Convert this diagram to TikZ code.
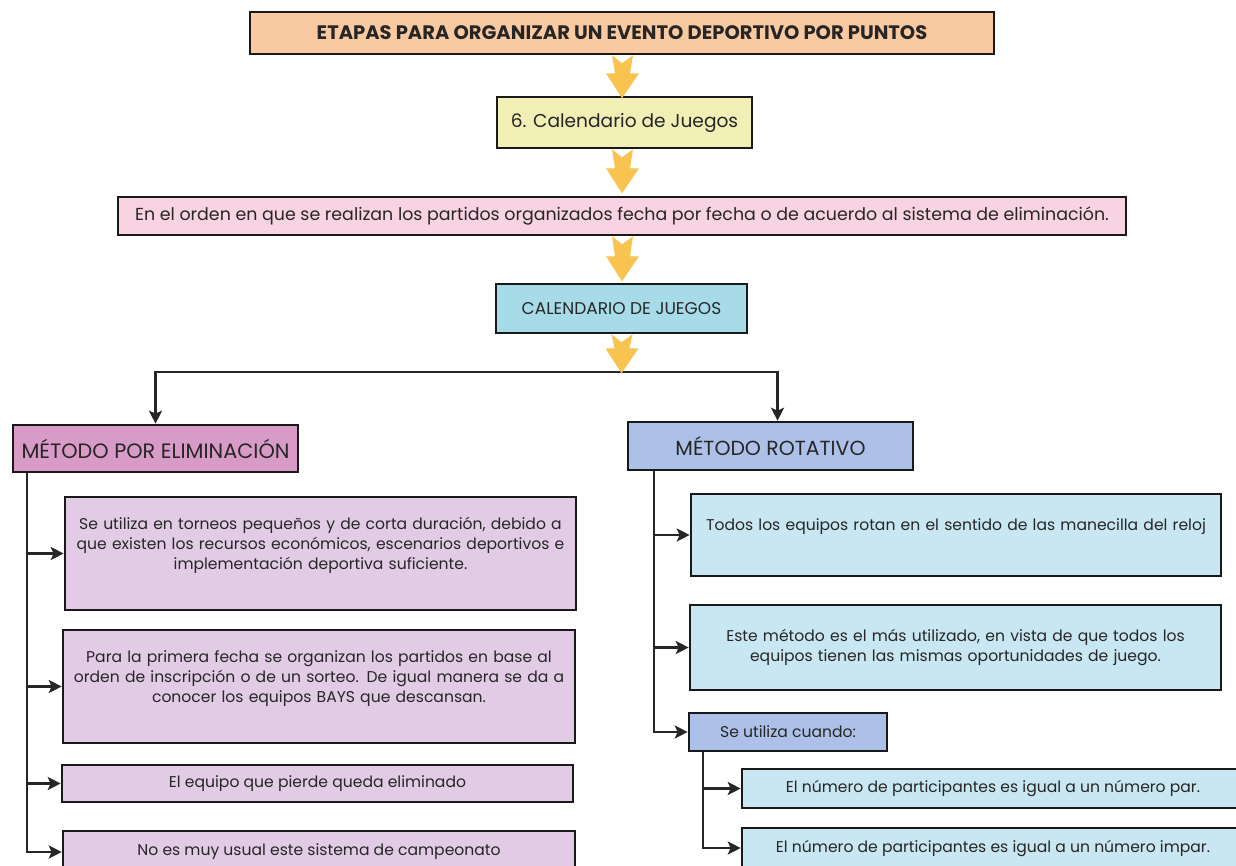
\documentclass[tikz,border=0pt]{standalone}
\usepackage{fontspec}
\setmainfont{Poppins}
\usetikzlibrary{arrows.meta}

\definecolor{durazno}{HTML}{F9C9A1}
\definecolor{crema}{HTML}{F1EFB6}
\definecolor{rosado}{HTML}{F8D3E2}
\definecolor{celeste}{HTML}{A8DBE8}
\definecolor{malva}{HTML}{D89AC6}
\definecolor{lila}{HTML}{E1CBE5}
\definecolor{azulado}{HTML}{ADC0E8}
\definecolor{hielo}{HTML}{C8E7F2}
\definecolor{amarillo}{HTML}{F9C350}
\definecolor{tinta}{HTML}{262626}

\tikzset{
  caja/.style={draw=black!90, line width=2.6pt, align=center, inner sep=3pt, text=tinta, font=\fontsize{15.6}{20}\selectfont},
  conector/.style={line width=2.6pt, draw=tinta},
  flecha/.style={conector, -{Stealth[length=13pt,width=13pt,inset=3pt]}},
  gorda/.style={fill=amarillo, draw=none},
}
\newcommand{\cajanode}[4] {\node at (#1) (#2) [caja, #3] {#4};}
\newcommand{\gordaflecha}[2] {\fill [gorda, shift={(#1)}] (-10,0) -- (0,8) -- (11,0) -- (8,{#2-25}) -- (17,{#2-25}) -- (0,#2) -- (-16,{#2-25}) -- (-7,{#2-25}) -- cycle;}

\begin{document}
\begin{tikzpicture}[x=1pt,y=-1pt]
\useasboundingbox (0,0) rectangle (1236,866);
\fill [white] (0,0) rectangle (1236,866);

\cajanode {622,33} {titulo} {fill=durazno, minimum width=744, minimum height=42, font=\bfseries\fontsize{19.5}{22}\selectfont} {ETAPAS PARA ORGANIZAR UN EVENTO DEPORTIVO POR PUNTOS}
\cajanode {624.5,122.5} {calseis} {fill=crema, minimum width=255, minimum height=51, font=\fontsize{18.6}{22}\selectfont} {6. Calendario de Juegos}
\cajanode {622,216} {definicion} {fill=rosado, minimum width=1008, minimum height=38, font=\fontsize{17.4}{20}\selectfont} {En el orden en que se realizan los partidos organizados fecha por fecha o de acuerdo al sistema de eliminación.}
\cajanode {621.5,308.5} {calj} {fill=celeste, minimum width=251, minimum height=49, font=\fontsize{17}{20}\selectfont} {CALENDARIO DE JUEGOS}

\cajanode {155.5,448.5} {elim} {fill=malva, minimum width=285, minimum height=47, font=\fontsize{20.8}{23}\selectfont} {MÉTODO POR ELIMINACIÓN}
\cajanode {770.5,446} {rot} {fill=azulado, minimum width=285, minimum height=48, font=\fontsize{20.4}{23}\selectfont} {MÉTODO ROTATIVO}

% metodo por eliminacion
\cajanode {320.5,553.5} {l1} {fill=lila, minimum width=511, minimum height=113, text width=500} {Se utiliza en torneos pequeños y de corta duración, debido a\\ que existen los recursos económicos, escenarios deportivos e\\ implementación deportiva suficiente.\\ \mbox{}}
\cajanode {319,686.5} {l2} {fill=lila, minimum width=512, minimum height=113, text width=500} {Para la primera fecha se organizan los partidos en base al\\ orden de inscripción o de un sorteo. De igual manera se da a\\ conocer los equipos BAYS que descansan.\\ \mbox{}}
\cajanode {317.5,783.5} {l3} {fill=lila, minimum width=511, minimum height=37} {El equipo que pierde queda eliminado}
\cajanode {319,852} {l4} {fill=lila, minimum width=512, minimum height=42} {No es muy usual este sistema de campeonato}

% metodo rotativo
\cajanode {956,535} {r1} {fill=hielo, minimum width=530, minimum height=82, text width=520} {Todos los equipos rotan en el sentido de las manecilla del reloj\\ \mbox{}}
\cajanode {955.5,647.5} {r2} {fill=hielo, minimum width=531, minimum height=85, text width=520} {Este método es el más utilizado, en vista de que todos los\\ equipos tienen las mismas oportunidades de juego.}
\cajanode {788,732} {r3} {fill=azulado, minimum width=198, minimum height=38} {Se utiliza cuando:}
\cajanode {993,788.5} {r4} {fill=hielo, minimum width=502, minimum height=39} {El número de participantes es igual a un número par.}
\cajanode {993,848} {r5} {fill=hielo, minimum width=502, minimum height=40} {El número de participantes es igual a un número impar.}

\coordinate (reparto) at (622,372);
\draw [flecha] (reparto) -| (elim.north);
\draw [flecha] (reparto) -| ([xshift=7]rot.north);

\coordinate (tizq) at (27,0);
\draw [flecha] (elim.south -| tizq) |- (l4.west);
\foreach \n in {l1,l2,l3} \draw [flecha] (tizq |- \n.west) -- (\n.west);

\coordinate (tder) at (654,0);
\draw [flecha] (rot.south -| tder) |- (r3.west);
\foreach \n in {r1,r2} \draw [flecha] (tder |- \n.west) -- (\n.west);

\coordinate (tsub) at (703,0);
\draw [flecha] (r3.south -| tsub) |- (r5.west);
\draw [flecha] (tsub |- r4.west) -- (r4.west);

\gordaflecha {titulo.south} {43};
\gordaflecha {[xshift=-2.5]calseis.south} {44};
\gordaflecha {definicion.south} {45};
\gordaflecha {calj.south} {39};
\end{tikzpicture}
\end{document}
